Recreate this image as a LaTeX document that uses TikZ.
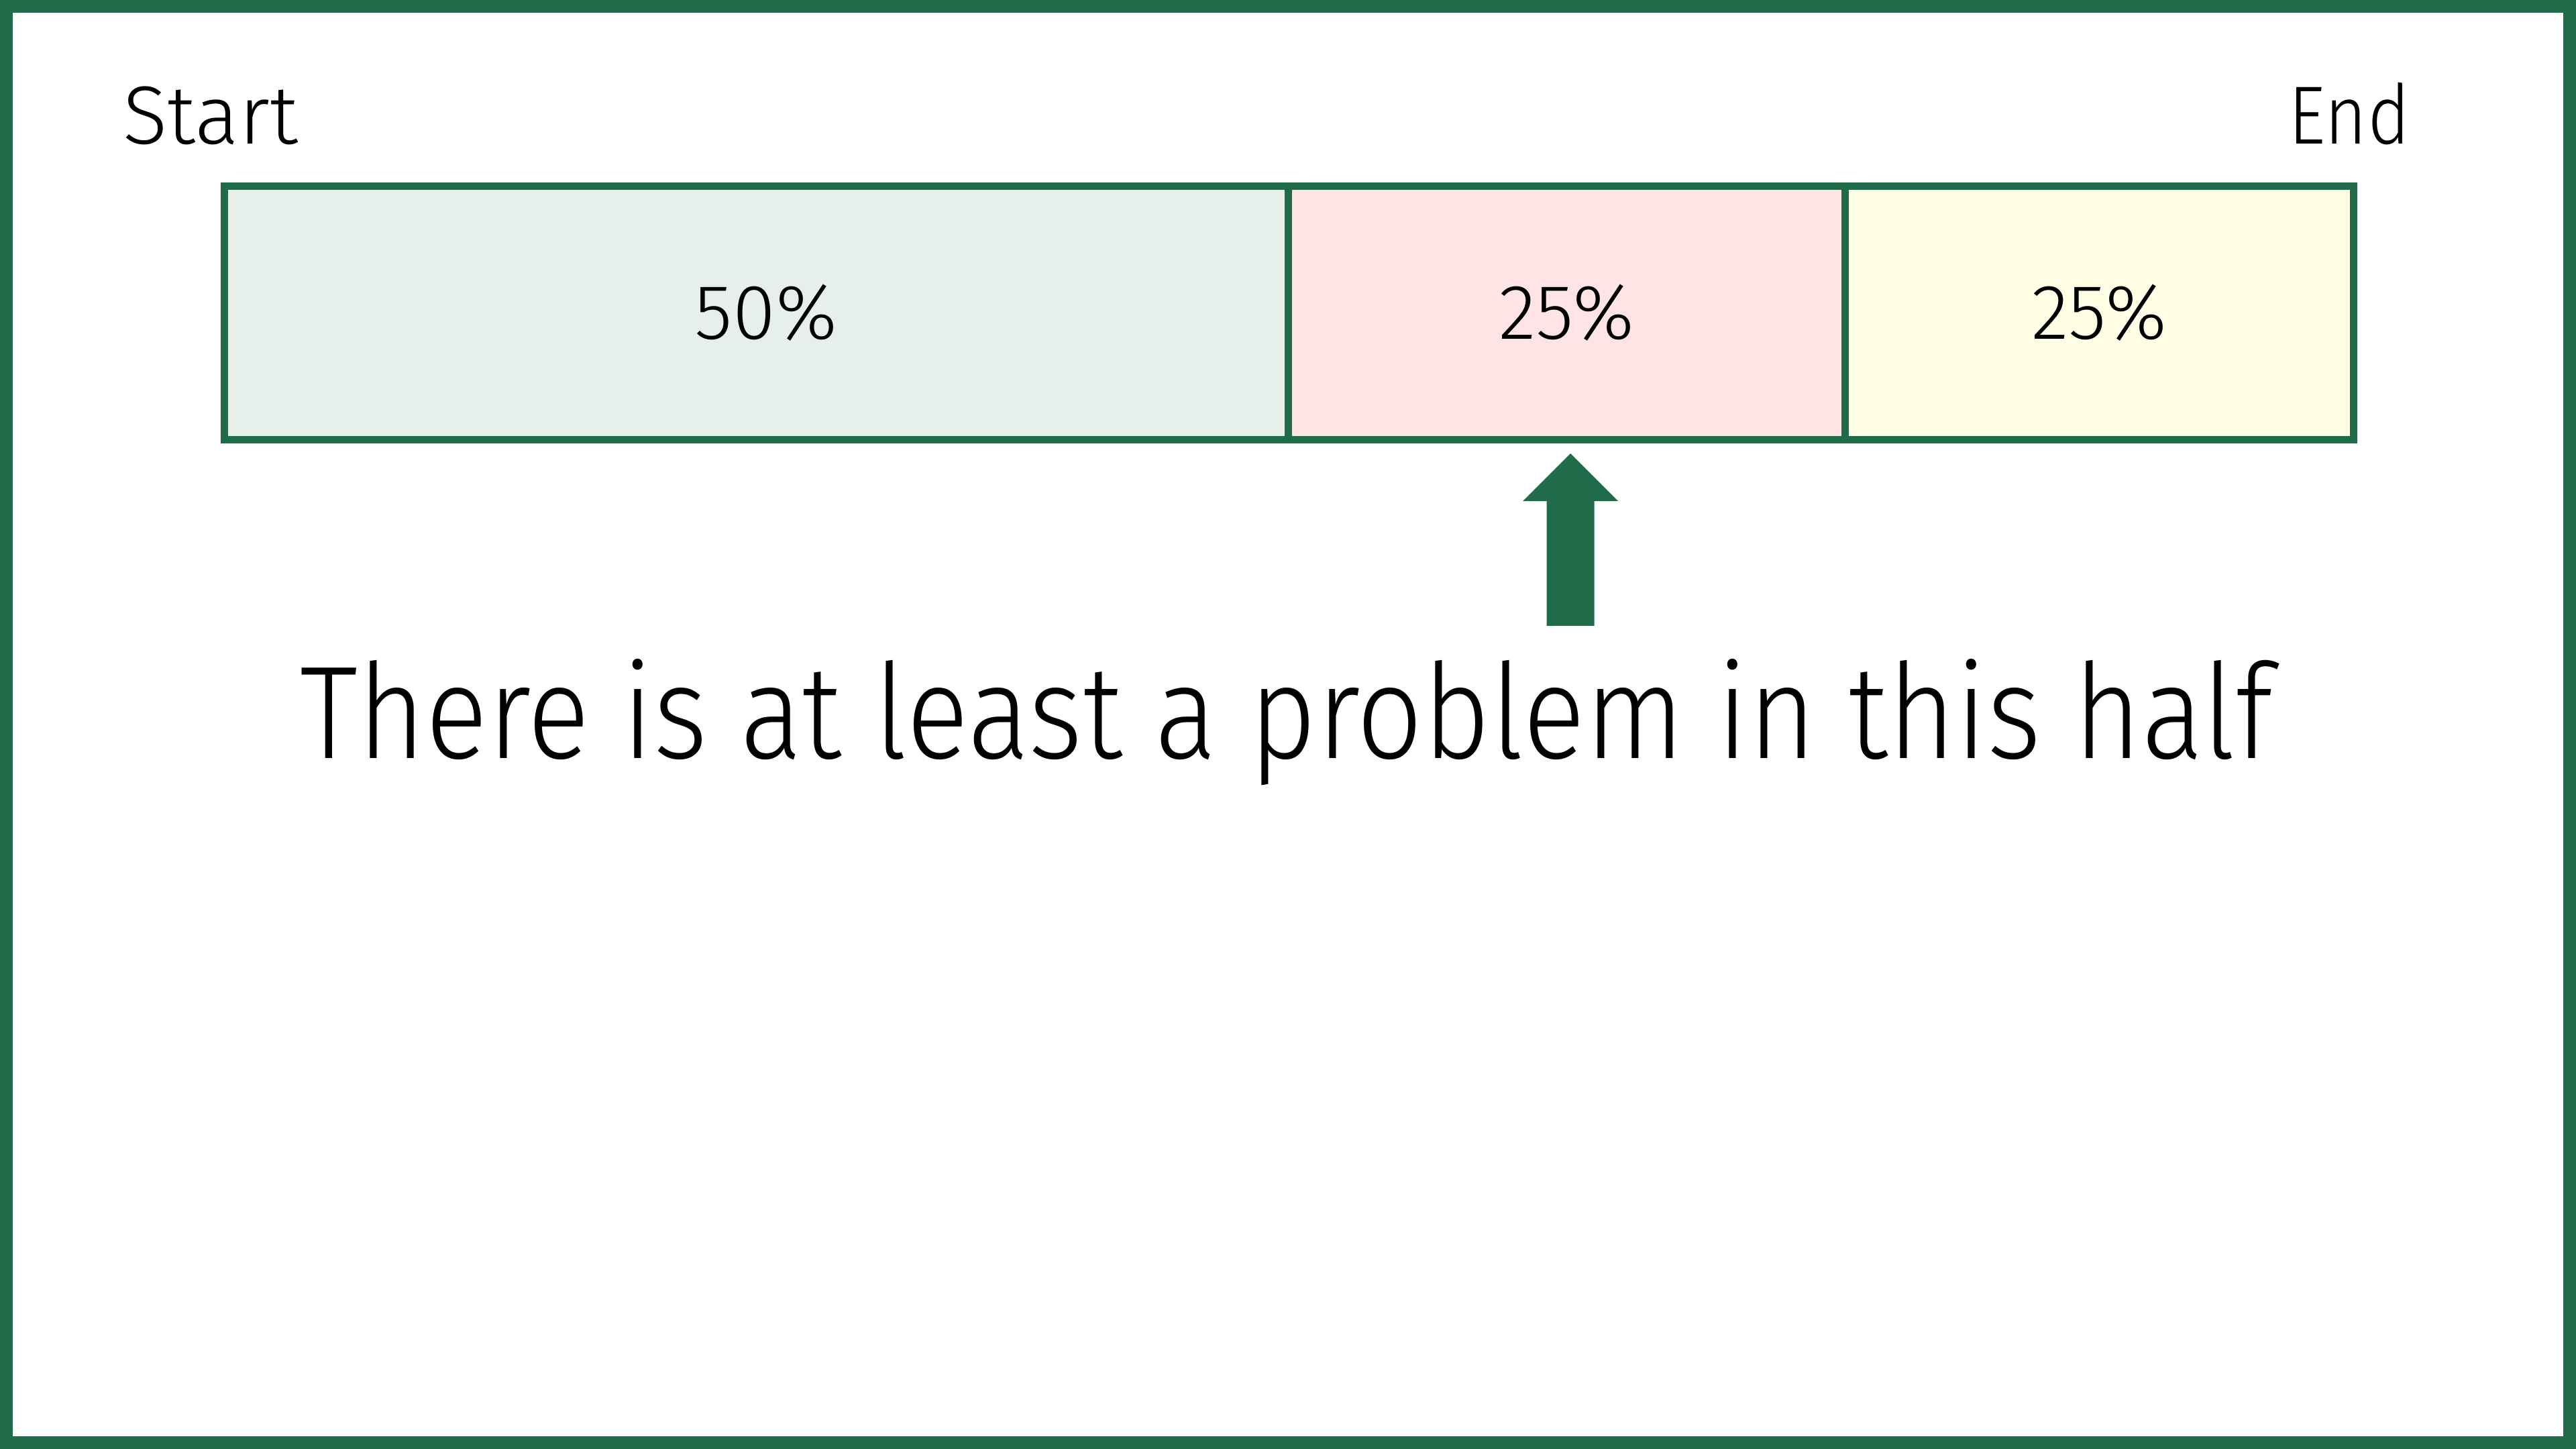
\documentclass[tikz,border=0pt]{standalone}
\usepackage{fontspec}
\setmainfont[FakeStretch=0.88]{Fira Sans Light}
\newfontfamily\widefont[FakeStretch=1.0]{Fira Sans Light}
\usetikzlibrary{positioning}
\definecolor{frame}{RGB}{31,107,74}
\definecolor{half}{RGB}{230,239,234}
\definecolor{quartA}{RGB}{255,228,230}
\definecolor{quartB}{RGB}{255,255,230}

\begin{document}
\begin{tikzpicture}[seg node/.style={rectangle,draw=frame,line width=0.11cm,inner sep=0pt,
                    minimum height=3.78cm,font=\widefont\fontsize{33}{36}\selectfont},
                    end label/.style={anchor=base,font=\fontsize{35}{40}\selectfont}]

  \useasboundingbox (0,0) rectangle (38.4,21.6);
  \draw[frame, line width=0.19cm] (0.095,0.095) rectangle (38.305,21.505);

  \node[end label, font=\widefont\fontsize{35}{40}\selectfont] (start) at (3.14, 19.45) {Start};
  \node[end label] (end) at (35.02, 19.45) {End};

  \node[seg node, fill=half, minimum width=15.86cm] (s1) at (11.27, 16.935) {\hspace{0.3cm}50\%};
  \node[seg node, fill=quartA, minimum width=8.30cm] (s2) at (23.35, 16.935) {25\%};
  \node[seg node, fill=quartB, minimum width=7.58cm] (s3) at (31.29, 16.935) {25\%};

  \coordinate (tip) at (23.41, 14.84);
  \fill[frame] (tip) -- ++(0.71,-0.71) -- ++(-0.355,0) -- ++(0,-1.86) -- ++(-0.71,0)
    -- ++(0,1.86) -- ++(-0.355,0) -- cycle;

  \node[anchor=base, font=\fontsize{56}{60}\selectfont] (msg) at (19.18, 10.29)
    {There is at least a problem in this half};

\end{tikzpicture}
\end{document}
